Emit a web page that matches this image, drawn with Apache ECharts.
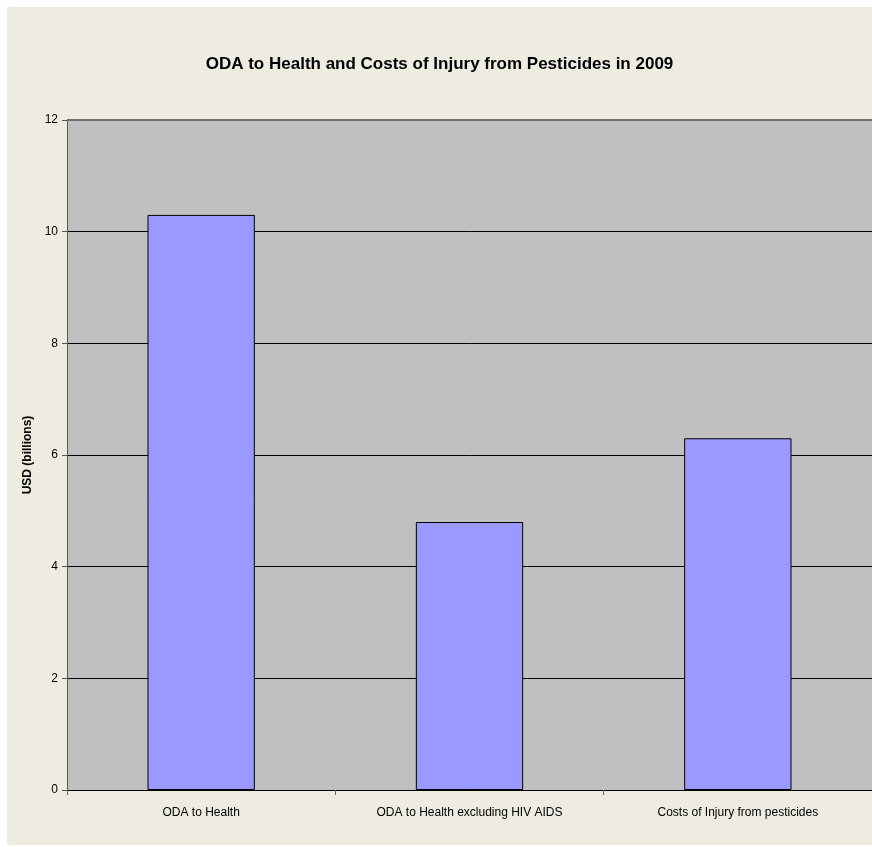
<!DOCTYPE html>
<html><head><meta charset="utf-8">
<script src="https://cdn.jsdelivr.net/npm/echarts@6/dist/echarts.min.js"></script>
<style>
html,body{margin:0;padding:0;background:#fff;width:872px;height:847px;overflow:hidden}
#c{position:absolute;left:7px;top:7px;width:865px;height:838px;background:#EEECE1}
</style></head>
<body><div id="c"></div>
<script>
const categories = ['ODA to Health', 'ODA to Health excluding HIV AIDS', 'Costs of Injury from pesticides'];
const values = [10.3, 4.8, 6.3];
const yMax = 12;
const titleText = 'ODA to Health and Costs of Injury from Pesticides in 2009';
const yName = 'USD (billions)';

const chart = echarts.init(document.getElementById('c'), null, {renderer: 'canvas'});
chart.setOption({
  backgroundColor: '#EEECE1',
  animation: false,
  title: {
    text: titleText, left: 'center', top: 44,
    textStyle: {fontFamily: 'Liberation Sans, Arial', fontWeight: 'bold', fontSize: 17, color: '#000'}
  },
  grid: {left: 60, right: -2, top: 113, bottom: 55, show: true, backgroundColor: '#C0C0C0', borderWidth: 0},
  xAxis: {
    type: 'category', data: categories,
    axisLine: {show: true, lineStyle: {color: '#000', width: 1}},
    axisTick: {show: true, length: 5, lineStyle: {color: '#666'}},
    axisLabel: {color: '#000', fontSize: 12, margin: 17, fontFamily: 'Liberation Sans, Arial'}
  },
  yAxis: {
    type: 'value', min: 0, max: yMax, interval: 2,
    name: yName, nameLocation: 'middle', nameGap: 28, nameRotate: 90,
    nameTextStyle: {fontWeight: 'bold', fontSize: 12, color: '#000', fontFamily: 'Liberation Sans, Arial'},
    axisLine: {show: true, lineStyle: {color: '#555', width: 1}},
    axisTick: {show: true, length: 5, lineStyle: {color: '#555'}},
    axisLabel: {color: '#000', fontSize: 12, margin: 9, fontFamily: 'Liberation Sans, Arial'},
    splitLine: {show: true, lineStyle: {color: ['#000','#000','#000','#000','#000','#000','#707070'], width: 1}}
  },
  series: [{
    type: 'bar', data: values, barWidth: '40%',
    itemStyle: {color: '#9999FF', borderColor: '#000', borderWidth: 1},
    markLine: {
      silent: true, symbol: 'none', label: {show: false},
      lineStyle: {color: '#707070', width: 2, type: 'solid'},
      data: [{yAxis: yMax}]
    }
  }]
});
</script></body></html>
